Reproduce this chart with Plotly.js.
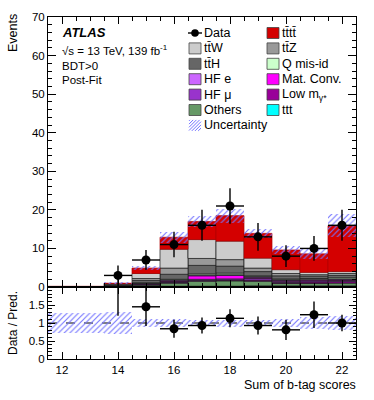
<!DOCTYPE html>
<html>
<head>
<meta charset="utf-8">
<script src="https://cdn.plot.ly/plotly-3.0.1.min.js"></script>
<style>html,body{margin:0;padding:0;background:#fff;}#chart{width:374px;height:400px;}</style>
</head>
<body>
<div id="chart"></div>
<script>
// ---- data (bin centres = sum of b-tag scores) ----
const bins    = [12, 13, 14, 15, 16, 17, 18, 19, 20, 21, 22];
const ttt     = [0, 0, 0.02, 0.1, 0.2, 0.2, 0.2, 0.3, 0.3, 0.3, 0.3];
const others  = [0.05, 0.05, 0.2, 0.4, 0.8, 1.3, 1.4, 1.2, 0.6, 0.6, 0.7];
const lowM    = [0, 0, 0.02, 0.1, 0.2, 0.2, 0.2, 0.3, 0.3, 0.4, 0.4];
const hfMu    = [0, 0, 0.03, 0.15, 0.2, 0.3, 0.3, 0.4, 0.3, 0.3, 0.3];
const matConv = [0, 0, 0.02, 0.15, 0.2, 0.9, 0.9, 0.3, 0.2, 0.2, 0.2];
const hfE     = [0, 0, 0.02, 0.1, 0.2, 0.2, 0.2, 0.2, 0.2, 0.2, 0.2];
const qMisId  = [0, 0, 0.02, 0.1, 0.2, 0.3, 0.4, 0.2, 0.2, 0.2, 0.3];
const ttH     = [0.03, 0.03, 0.2, 0.6, 1.3, 2.2, 1.8, 1.1, 0.8, 0.6, 0.6];
const ttZ     = [0.02, 0.02, 0.15, 0.5, 1.6, 1.8, 1.7, 0.9, 0.6, 0.4, 0.5];
const ttW     = [0.03, 0.03, 0.2, 1.3, 4.9, 4.9, 4.8, 2.6, 1.0, 0.6, 0.5];
const tttt    = [0.05, 0.05, 0.1, 1.4, 3.1, 4.7, 6.6, 6.4, 5.1, 4.8, 11.9];
const uncertainty = [0.05, 0.05, 0.3, 0.6, 1.4, 1.5, 1.8, 1.1, 1.0, 1.4, 2.9];
const data       = [null, null, 3, 7, 11, 16, 21, 13, 8, 10, 16];
const dataErrUp  = [null, null, 2.6, 2.6, 3.3, 4.0, 4.6, 3.6, 2.8, 3.2, 4.0];
const dataErrDn  = [null, null, 3.0, 2.6, 3.3, 4.0, 4.6, 3.6, 2.8, 3.2, 4.0];
const ratio      = [null, null, 3.2, 1.45, 0.84, 0.93, 1.13, 0.93, 0.81, 1.23, 1.0];
const ratioErr   = [null, null, 2.0, 0.53, 0.25, 0.22, 0.25, 0.25, 0.28, 0.37, 0.23];
const ratioTickVals = [0, 0.5, 1, 1.5];
const ratioTickText = ['0', '0.5', '1', '1.5'];
const xTickVals = [12, 14, 16, 18, 20, 22];
const xTickText = ['12', '14', '16', '18', '20', '22'];

// ---- styles ----
const FONT = 'Liberation Sans, Arial, Helvetica, sans-serif';
const HATCH = '#7474ff';
const stackDef = [  // bottom to top
  {name: 'ttt', y: ttt, color: '#00ffff'},
  {name: 'Others', y: others, color: '#669966'},
  {name: 'Low mγ*', y: lowM, color: '#990099'},
  {name: 'HF μ', y: hfMu, color: '#9933cc'},
  {name: 'Mat. Conv.', y: matConv, color: '#ff00ff'},
  {name: 'HF e', y: hfE, color: '#cc66ff'},
  {name: 'Q mis-id', y: qMisId, color: '#ccffcc'},
  {name: 'tt̄H', y: ttH, color: '#666666'},
  {name: 'tt̄Z', y: ttZ, color: '#999999'},
  {name: 'tt̄W', y: ttW, color: '#cccccc'},
  {name: 'tt̄tt̄', y: tttt, color: '#d40000'}
];

const traces = [];
let cum = bins.map(() => 0);
stackDef.forEach(s => {
  traces.push({
    type: 'bar', x: bins, y: s.y, base: cum.slice(), width: 1,
    xaxis: 'x', yaxis: 'y', name: s.name, showlegend: false, hoverinfo: 'skip',
    marker: {color: s.color, line: {color: s.name === 'tt̄tt̄' ? '#b00000' : '#1a1a1a', width: 0.7}}
  });
  cum = cum.map((c, i) => c + s.y[i]);
});
const total = cum;

const patt = {shape: '/', fgcolor: HATCH, bgcolor: 'rgba(0,0,0,0)', size: 4, solidity: 0.28};
traces.push({
  type: 'bar', x: bins, y: uncertainty.map(u => 2 * u),
  base: total.map((t, i) => t - uncertainty[i]), width: 1,
  xaxis: 'x', yaxis: 'y', showlegend: false, hoverinfo: 'skip',
  marker: {color: 'rgba(0,0,0,0)', line: {width: 0}, pattern: patt}
});
traces.push({
  type: 'scatter', mode: 'markers', x: bins, y: data, xaxis: 'x', yaxis: 'y',
  showlegend: false, hoverinfo: 'skip', cliponaxis: true,
  marker: {color: '#000', size: 9},
  error_y: {type: 'data', array: dataErrUp, arrayminus: dataErrDn, color: '#000', thickness: 1.4, width: 0},
  error_x: {type: 'constant', value: 0.5, color: '#000', thickness: 1.4, width: 0}
});
// ratio panel
const relUnc = uncertainty.map((u, i) => u / total[i]);
traces.push({
  type: 'bar', x: bins, y: relUnc.map(r => 2 * r), base: relUnc.map(r => 1 - r), width: 1,
  xaxis: 'x2', yaxis: 'y2', showlegend: false, hoverinfo: 'skip',
  marker: {color: 'rgba(0,0,0,0)', line: {width: 0}, pattern: patt}
});
traces.push({
  type: 'scatter', mode: 'markers', x: bins, y: ratio, xaxis: 'x2', yaxis: 'y2',
  showlegend: false, hoverinfo: 'skip', cliponaxis: true,
  marker: {color: '#000', size: 9},
  error_y: {type: 'data', array: ratioErr, color: '#000', thickness: 1.4, width: 0},
  error_x: {type: 'constant', value: 0.5, color: '#000', thickness: 1.4, width: 0}
});

// ---- pixel helpers for text / legend placement ----
const ML = 48, MR = 18, MT = 17, MB = 41, W = 374, H = 400;
const PW = W - ML - MR, PH = H - MT - MB;
const PX = X => (X - ML) / PW;
const PY = Y => (H - MB - Y) / PH;

const annotations = [];
const shapes = [];
function text(t, X, Y, size, opts) {
  annotations.push(Object.assign({
    xref: 'paper', yref: 'paper', x: PX(X), y: PY(Y), text: t, showarrow: false,
    xanchor: 'left', yanchor: 'middle', font: {family: FONT, size: size, color: '#000'}, borderpad: 0
  }, opts || {}));
}
text('<b><i>ATLAS</i></b>', 61, 32, 13);
text('√s = 13 TeV, 139 fb<sup>-1</sup>', 61, 50, 11.5);
text('BDT>0', 61, 65.5, 11.5);
text('Post-Fit', 61, 80, 11.5);
text('Events', 13, 13, 12.5, {textangle: -90, xanchor: 'center', yanchor: 'top'});
text('Data / Pred.', 13, 323, 12, {textangle: -90, xanchor: 'center', yanchor: 'middle'});
text('Sum of b-tag scores', 357, 385, 12.5, {xanchor: 'right'});

// legend (two columns, ROOT style)
const legendCol1 = [
  {label: 'Data', kind: 'data'},
  {label: 'tt̄W', color: '#cccccc'},
  {label: 'tt̄H', color: '#666666'},
  {label: 'HF e', color: '#cc66ff'},
  {label: 'HF μ', color: '#9933cc'},
  {label: 'Others', color: '#669966'},
  {label: 'Uncertainty', kind: 'hatch'}
];
const legendCol2 = [
  {label: 'tt̄tt̄', color: '#d40000'},
  {label: 'tt̄Z', color: '#999999'},
  {label: 'Q mis-id', color: '#ccffcc'},
  {label: 'Mat. Conv.', color: '#ff00ff'},
  {label: 'Low m<sub>γ*</sub>', color: '#990099'},
  {label: 'ttt', color: '#00ffff'}
];
const rowY0 = 33, rowDY = 15.4;
function legendColumn(entries, cx) {
  entries.forEach((e, i) => {
    const Y = rowY0 + i * rowDY;
    const x0 = PX(cx - 6), x1 = PX(cx + 6), y0 = PY(Y + 5.5), y1 = PY(Y - 5.5);
    if (e.kind === 'data') {
      shapes.push({type: 'line', xref: 'paper', yref: 'paper', x0: PX(cx - 7), x1: PX(cx + 7), y0: PY(Y), y1: PY(Y), line: {color: '#000', width: 1.4}});
      shapes.push({type: 'circle', xref: 'paper', yref: 'paper', x0: PX(cx - 3.8), x1: PX(cx + 3.8), y0: PY(Y + 3.8), y1: PY(Y - 3.8), fillcolor: '#000', line: {color: '#000', width: 0}});
    } else if (e.kind === 'hatch') {
      const L = cx - 6, R = cx + 6, T = Y - 5.5, B = Y + 5.5;
      for (let c = -10; c <= 12; c += 3.2) {
        let xa = L + c, ya = B, xb = L + c + 11, yb = T;
        if (xa < L) { ya = B - (L - xa); xa = L; }
        if (xb > R) { yb = T + (xb - R); xb = R; }
        if (xa >= xb) continue;
        shapes.push({type: 'line', xref: 'paper', yref: 'paper', x0: PX(xa), y0: PY(ya), x1: PX(xb), y1: PY(yb), line: {color: HATCH, width: 1}});
      }
    } else {
      shapes.push({type: 'rect', xref: 'paper', yref: 'paper', x0: x0, x1: x1, y0: y0, y1: y1, fillcolor: e.color, line: {color: '#444', width: 0.8}});
    }
    text(e.label, cx + 8, Y, 12.5);
  });
}
legendColumn(legendCol1, 195);
legendColumn(legendCol2, 273);

// ratio = 1 reference line (below the points)
shapes.push({type: 'line', layer: 'below', xref: 'x2 domain', yref: 'y2', x0: 0, x1: 1, y0: 1, y1: 1, line: {color: '#000', width: 1, dash: 'dash'}});

const ratioFrac = 72 / PH;
const axisCommon = {
  showline: true, linecolor: '#000', linewidth: 1, mirror: 'allticks', ticks: 'inside',
  tickcolor: '#000', zeroline: false, showgrid: false,
  tickfont: {family: FONT, size: 11.5, color: '#000'}
};
const layout = {
  width: W, height: H, margin: {l: ML, r: MR, t: MT, b: MB, pad: 0},
  paper_bgcolor: '#fff', plot_bgcolor: '#fff', barmode: 'overlay', bargap: 0,
  showlegend: false, hovermode: false,
  xaxis: Object.assign({}, axisCommon, {
    range: [11.5, 22.5], anchor: 'y', showticklabels: false, matches: 'x2',
    tickvals: xTickVals, ticklen: 7, minor: {dtick: 0.5, ticklen: 4, ticks: 'inside', tickcolor: '#000', showgrid: false}
  }),
  yaxis: Object.assign({}, axisCommon, {
    domain: [ratioFrac, 1], range: [0, 70], dtick: 10, ticklen: 8, anchor: 'x',
    minor: {dtick: 2, ticklen: 4, ticks: 'inside', tickcolor: '#000', showgrid: false}
  }),
  xaxis2: Object.assign({}, axisCommon, {
    range: [11.5, 22.5], anchor: 'y2', tickvals: xTickVals, ticktext: xTickText, ticklen: 7,
    minor: {dtick: 0.5, ticklen: 4, ticks: 'inside', tickcolor: '#000', showgrid: false}
  }),
  yaxis2: Object.assign({}, axisCommon, {
    domain: [0, ratioFrac], range: [0, 2], anchor: 'x2', tickvals: ratioTickVals, ticktext: ratioTickText,
    ticklen: 7, minor: {dtick: 0.1, ticklen: 3.5, ticks: 'inside', tickcolor: '#000', showgrid: false}
  }),
  annotations: annotations,
  shapes: shapes
};
Plotly.newPlot('chart', traces, layout, {staticPlot: true, displayModeBar: false});
</script>
</body>
</html>
